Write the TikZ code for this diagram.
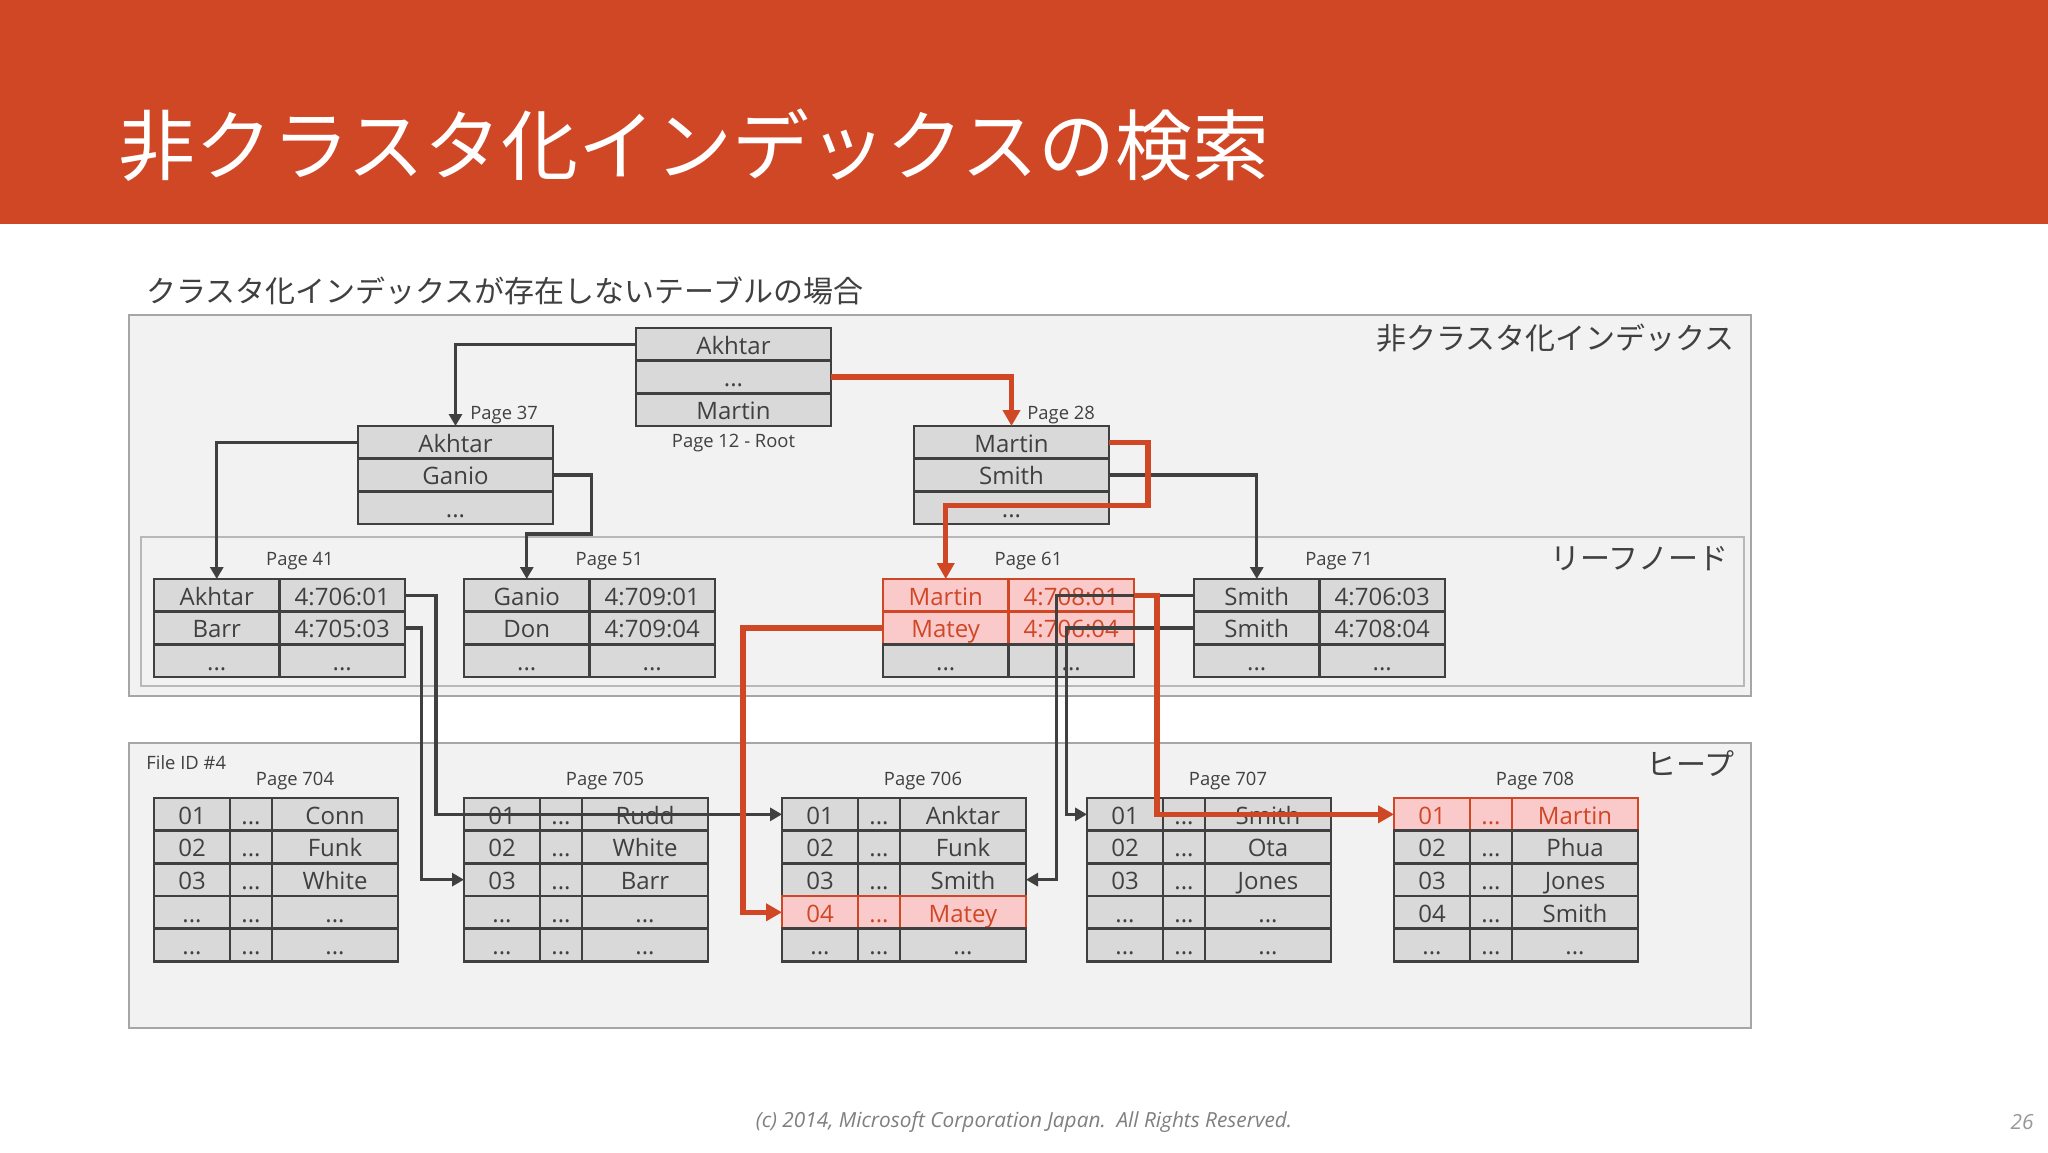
\documentclass[tikz,border=0pt]{standalone}
\usepackage{fontspec}
\setmainfont{Open Sans}
\newfontfamily\cjk{Noto Sans CJK JP}
\usetikzlibrary{arrows.meta}
\definecolor{accent}{RGB}{208,71,38}
\definecolor{cellgray}{RGB}{217,217,217}
\definecolor{bordergray}{RGB}{64,64,64}
\definecolor{txtgray}{RGB}{64,64,64}
\definecolor{panelfill}{RGB}{242,242,243}
\definecolor{panelline}{RGB}{166,166,166}
\definecolor{hlpink}{RGB}{250,202,202}
\definecolor{footgray}{RGB}{127,127,127}
\newcommand\tc[6][]{\node[cell,minimum width=#5*0.5pt,#1] (#2) at (#3,#4) {#6};}
\newcommand\hrow[7]{%
  \tc[#1]{#2a}{#3}{#4}{76}{#5}%
  \tc[#1]{#2b}{#3+76}{#4}{42}{#6}%
  \tc[#1]{#2c}{#3+118}{#4}{126}{#7}}
\newcommand\lrow[6]{%
  \tc[#1]{#2a}{#3}{#4}{125.5}{#5}%
  \tc[#1]{#2b}{#3+125.5}{#4}{125.5}{#6}}
\begin{document}
\begin{tikzpicture}[x=0.5pt,y=-0.5pt,
  cell/.style={draw=bordergray, line width=1.3pt, fill=cellgray, inner sep=0pt, outer sep=0pt,
    anchor=north west, minimum height=16.33pt, text height=10pt, text depth=0pt,
    font=\fontsize{12}{12}\selectfont, text=txtgray},
  hl/.style={fill=hlpink, draw=accent, text=accent},
  pagelbl/.style={font=\fontsize{9.2}{9.2}\selectfont, text=txtgray, inner sep=0pt},
  jplbl/.style={font=\cjk\fontsize{15}{15}\selectfont, text=txtgray, inner sep=0pt},
  panel/.style={fill=panelfill, draw=panelline, line width=1pt},
  link/.style={draw=bordergray, line width=1.6pt, -{Triangle[length=6pt,width=6.5pt]}},
  hot/.style={draw=accent, line width=2.7pt, -{Triangle[length=8pt,width=8.5pt]}},
  ]
\useasboundingbox (0,0) rectangle (2048,1152);
\fill[white] (0,0) rectangle (2048,1152);
% title bar
\fill[accent] (0,0) rectangle (2048,224);
\node[anchor=west, inner sep=0pt, text=white, font=\cjk\fontsize{38.5}{38.5}\selectfont] (title) at (118,145) {非クラスタ化インデックスの検索};
\node[jplbl, anchor=west] (subtitle) at (146,291) {クラスタ化インデックスが存在しないテーブルの場合};
% panels
\draw[panel] (129,315) rectangle (1751,696);
\draw[panel, draw=panelline!80] (141,537) rectangle (1744,686);
\draw[panel] (129,743) rectangle (1751,1028);
\node[jplbl, anchor=east] (lblidx) at (1735,338) {非クラスタ化インデックス};
\node[jplbl, anchor=east] (lblleaf) at (1729,559) {リーフノード};
\node[jplbl, anchor=east] (lblheap) at (1735,764) {ヒープ};
% root page 12
\tc{p12a}{636}{328}{195}{Akhtar}
\tc{p12b}{636}{360.65}{195}{...}
\tc{p12c}{636}{393.3}{195}{Martin}
\node[pagelbl] (l12) at (733.5,443.5) {Page 12 - Root};
% page 37
\tc{p37a}{358}{426}{195}{Akhtar}
\tc{p37b}{358}{458.65}{195}{Ganio}
\tc{p37c}{358}{491.3}{195}{...}
\node[pagelbl, anchor=west] (l37) at (470,415.5) {Page 37};
% page 28
\tc{p28a}{914}{426}{195}{Martin}
\tc{p28b}{914}{458.65}{195}{Smith}
\tc{p28c}{914}{491.3}{195}{...}
\node[pagelbl, anchor=west] (l28) at (1027,415.5) {Page 28};
% leaf pages
\lrow{}{p41r1}{154}{579}{Akhtar}{4:706:01}
\lrow{}{p41r2}{154}{611.65}{Barr}{4:705:03}
\lrow{}{p41r3}{154}{644.3}{...}{...}
\node[pagelbl] (l41) at (300,561.5) {Page 41};
\lrow{}{p51r1}{464}{579}{Ganio}{4:709:01}
\lrow{}{p51r2}{464}{611.65}{Don}{4:709:04}
\lrow{}{p51r3}{464}{644.3}{...}{...}
\node[pagelbl] (l51) at (609.5,561.5) {Page 51};
\lrow{hl}{p61r1}{883}{579}{Martin}{4:708:01}
\lrow{hl}{p61r2}{883}{611.65}{Matey}{4:706:04}
\lrow{}{p61r3}{883}{644.3}{...}{...}
\node[pagelbl] (l61) at (1028.5,561.5) {Page 61};
\lrow{}{p71r1}{1194}{579}{Smith}{4:706:03}
\lrow{}{p71r2}{1194}{611.65}{Smith}{4:708:04}
\lrow{}{p71r3}{1194}{644.3}{...}{...}
\node[pagelbl] (l71) at (1339,561.5) {Page 71};
% heap
\node[pagelbl, anchor=west] (fileid) at (146,763) {File ID \#4};
\hrow{}{p704r1}{154}{798}{01}{...}{Conn}
\hrow{}{p704r2}{154}{830.65}{02}{...}{Funk}
\hrow{}{p704r3}{154}{863.3}{03}{...}{White}
\hrow{}{p704r4}{154}{895.95}{...}{...}{...}
\hrow{}{p704r5}{154}{928.6}{...}{...}{...}
\node[pagelbl] (l704) at (295,781.5) {Page 704};
\hrow{}{p705r1}{464}{798}{01}{...}{Rudd}
\hrow{}{p705r2}{464}{830.65}{02}{...}{White}
\hrow{}{p705r3}{464}{863.3}{03}{...}{Barr}
\hrow{}{p705r4}{464}{895.95}{...}{...}{...}
\hrow{}{p705r5}{464}{928.6}{...}{...}{...}
\node[pagelbl] (l705) at (605,781.5) {Page 705};
\hrow{}{p706r1}{782}{798}{01}{...}{Anktar}
\hrow{}{p706r2}{782}{830.65}{02}{...}{Funk}
\hrow{}{p706r3}{782}{863.3}{03}{...}{Smith}
\hrow{hl}{p706r4}{782}{895.95}{04}{...}{Matey}
\hrow{}{p706r5}{782}{928.6}{...}{...}{...}
\node[pagelbl] (l706) at (923,781.5) {Page 706};
\hrow{}{p707r1}{1087}{798}{01}{...}{Smith}
\hrow{}{p707r2}{1087}{830.65}{02}{...}{Ota}
\hrow{}{p707r3}{1087}{863.3}{03}{...}{Jones}
\hrow{}{p707r4}{1087}{895.95}{...}{...}{...}
\hrow{}{p707r5}{1087}{928.6}{...}{...}{...}
\node[pagelbl] (l707) at (1228,781.5) {Page 707};
\hrow{hl}{p708r1}{1394}{798}{01}{...}{Martin}
\hrow{}{p708r2}{1394}{830.65}{02}{...}{Phua}
\hrow{}{p708r3}{1394}{863.3}{03}{...}{Jones}
\hrow{}{p708r4}{1394}{895.95}{04}{...}{Smith}
\hrow{}{p708r5}{1394}{928.6}{...}{...}{...}
\node[pagelbl] (l708) at (1535,781.5) {Page 708};
% bend points
\coordinate (b3a) at (591.6,534);
\coordinate (b6) at (1148,505.4);
\coordinate (b7) at (743,700);
\coordinate (b8) at (1157,700);
\coordinate (b9) at (1056.7,700);
\coordinate (b10) at (1066.7,700);
\coordinate (b11) at (436,700);
\coordinate (b12) at (421.7,700);
% gray connectors
\draw[link] (p12a.west) -| (p37a.north);
\draw[link] (p37a.west) -| (p41r1a.north);
\draw[link] (p37b.east) -| (b3a) -| (p51r1a.north);
\draw[link] (p28b.east) -| (p71r1a.north);
\draw[link] (p71r1a.west) -| (b9) |- (p706r3c.east);
\draw[link] (p71r2a.west) -| (b10) |- (p707r1a.west);
\draw[link] (p41r1b.east) -| (b11) |- (p706r1a.west);
\draw[link] (p41r2b.east) -| (b12) |- (p705r3a.west);
% red search path
\draw[hot] (p12b.east) -| (p28a.north);
\draw[hot] (p28a.east) -| (b6) -| (p61r1a.north);
\draw[hot] (p61r2a.west) -| (b7) |- (p706r4a.west);
\draw[hot] (p61r1b.east) -| (b8) |- (p708r1a.west);
% footer
\node[font=\fontsize{10.4}{10.4}\selectfont\itshape, text=footgray] (foot) at (1024,1122) {(c) 2014, Microsoft Corporation Japan.~~All Rights Reserved.};
\node[font=\fontsize{10.4}{10.4}\selectfont\itshape, text=footgray!80] (pgnum) at (2022,1122) {26};
\end{tikzpicture}
\end{document}
